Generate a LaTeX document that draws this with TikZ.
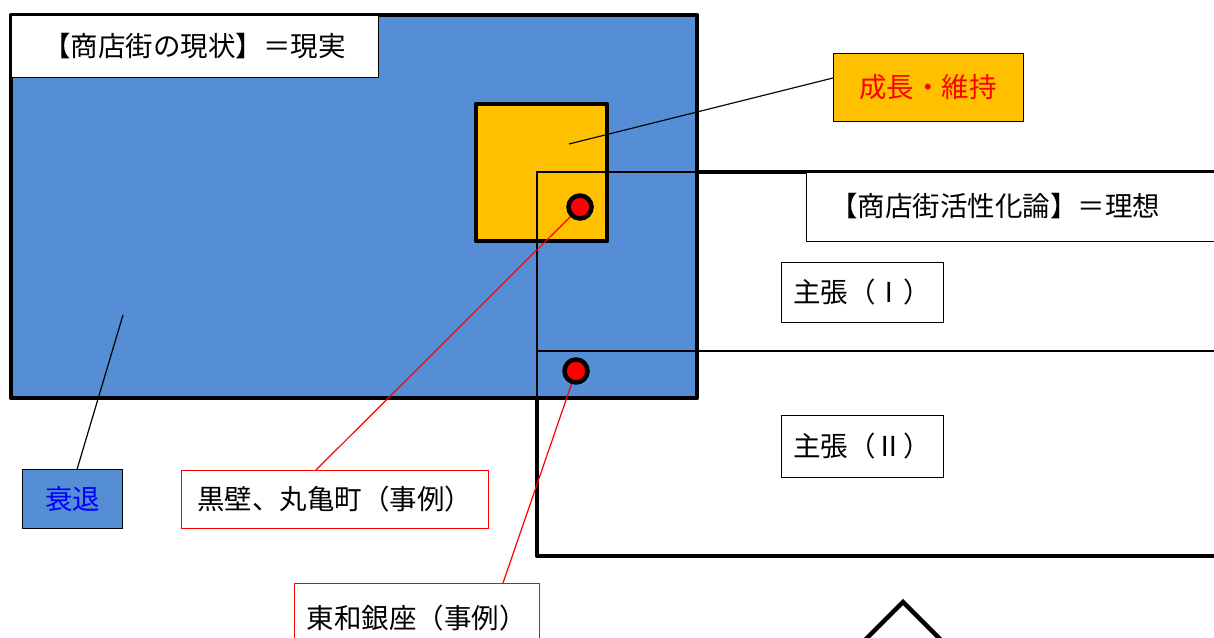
\documentclass[tikz,border=0pt]{standalone}
\usepackage{fontspec}
\newfontfamily\jp{Noto Sans CJK JP}
\definecolor{bluefill}{HTML}{558ED5}
\definecolor{orangefill}{HTML}{FFC000}
\definecolor{redtxt}{HTML}{FF0000}
\begin{document}
\begin{tikzpicture}[x=1pt,y=-1pt,
  thickbox/.style={draw=black,line width=4.5pt,line join=round},
  thinline/.style={draw=black,line width=1.3pt},
  lbl/.style={draw=black,line width=0.9pt,fill=white,inner sep=0pt,
    font=\jp\fontsize{27.5}{32}\selectfont},
  redlbl/.style={lbl,draw=red},
  dot/.style={circle,draw=black,line width=4.5pt,fill=red,minimum size=23pt,inner sep=0pt},
  leader/.style={draw=black,line width=1.2pt},
  redleader/.style={draw=red,line width=1.2pt}]
\useasboundingbox (0,0) rectangle (1214,637);
\clip (0,0) rectangle (1214,637);
\fill[white] (0,0) rectangle (1214,637);
% ideal region (behind)
\path[thickbox,fill=white] (537,172) rectangle (1270,556);
% reality region
\path[thickbox,fill=bluefill] (11,15) rectangle (697,398);
\node[lbl,minimum width=367pt,minimum height=62pt] (genjo) at (194.5,46) {【商店街の現状】＝現実};
% growth square
\path[thickbox,fill=orangefill] (476,104) rectangle (607,241);
% outline of ideal region seen through
\draw[thinline] (536,172) -- (697,172);
\draw[thinline] (537,172) -- (537,398);
\draw[thinline] (537,351) -- (1270,351);
% dots
\node[dot] (c1) at (580,207) {};
\node[dot] (c2) at (576,371) {};
% ideal label
\node[lbl,anchor=west,minimum height=69pt,text width=400pt,inner xsep=24pt,align=left] (riso) at (806,206.5) {【商店街活性化論】＝理想};
\node[lbl,minimum width=162pt,minimum height=60pt] (sh1) at (862,292) {主張（Ⅰ）};
\node[lbl,minimum width=162pt,minimum height=62pt] (sh2) at (862,446) {主張（Ⅱ）};
% callouts
\node[lbl,fill=orangefill,text=redtxt,minimum width=190pt,minimum height=68pt] (seicho) at (928,87) {成長・維持};
\coordinate (sq) at (569,144);
\coordinate (seicho-in) at (833,78);
\draw[leader] (sq) -- (seicho-in);
\node[lbl,fill=bluefill,text=blue,minimum width=100pt,minimum height=59pt] (suitai) at (72.5,499) {衰退};
\coordinate (bl) at (123,315);
\coordinate (suitai-in) at (77,469.5);
\draw[leader] (bl) -- (suitai-in);
\node[redlbl,minimum width=307pt,minimum height=58pt] (kuro) at (334.5,499) {黒壁、丸亀町（事例）};
\coordinate (kuro-in) at (316,470);
\draw[redleader] (c1) -- (kuro-in);
\node[redlbl,anchor=north west,minimum width=245pt,minimum height=70pt] (towa) at (294,583) {東和銀座（事例）};
\coordinate (towa-in) at (503,583);
\draw[redleader] (c2) -- (towa-in);
% arrow head outline at bottom
\draw[black,line width=4.5pt,line join=miter] (855,650) -- (903,602) -- (951,650);
\end{tikzpicture}
\end{document}
